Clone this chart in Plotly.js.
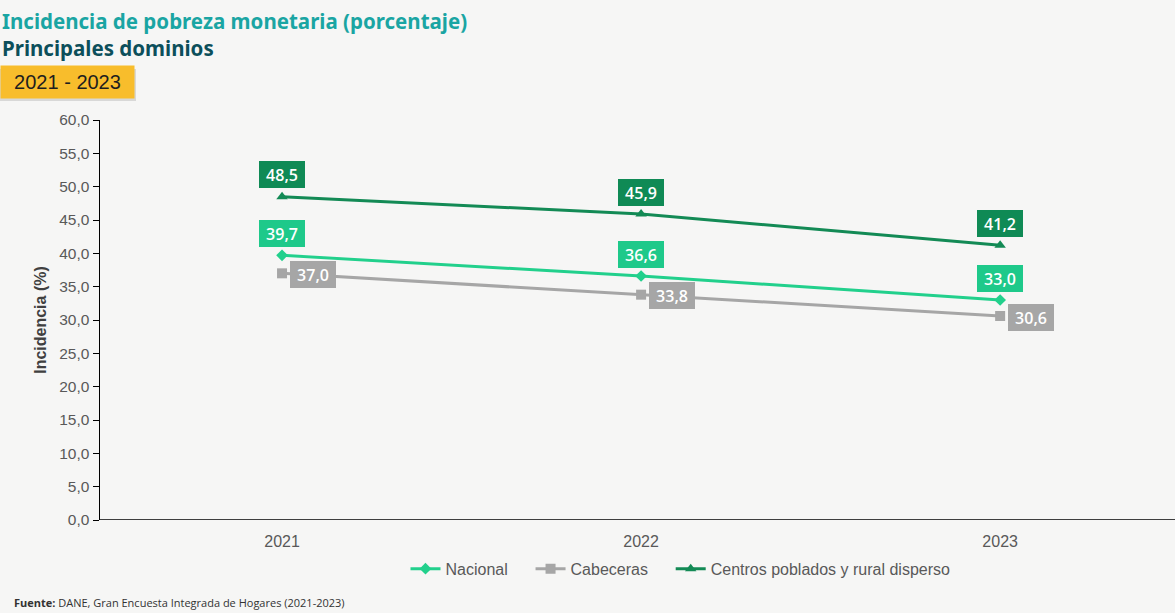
<!DOCTYPE html>
<html><head><meta charset="utf-8">
<script src="https://cdn.plot.ly/plotly-3.0.1.min.js"></script>
<style>html,body{margin:0;padding:0;background:#f6f6f5;}#chart{width:1175px;height:613px;}</style>
</head><body><div id="chart"></div>
<script>
const years = ['2021', '2022', '2023'];
const seriesNames = ['Nacional', 'Cabeceras', 'Centros poblados y rural disperso'];
const nacional = [39.7, 36.6, 33.0];
const cabeceras = [37.0, 33.8, 30.6];
const centros = [48.5, 45.9, 41.2];
const yTicks = [0, 5, 10, 15, 20, 25, 30, 35, 40, 45, 50, 55, 60];

const colors = ['#22d08c', '#a6a6a6', '#138a55'];
const labelBg = ['#1ec98a', '#a6a6a6', '#0f8a55'];
const symbols = ['diamond', 'square', 'triangle-up'];
const sizes = [9, 10, 10];
const allSeries = [nacional, cabeceras, centros];
// label placement: [xshift, yshift]
const shifts = [[0, 22], [31, -1], [0, 22]];

const traces = allSeries.map((vals, i) => ({
  x: years, y: vals, name: seriesNames[i] + (i < 2 ? '\u00a0\u00a0\u00a0\u00a0' : ''),
  type: 'scatter', mode: 'lines+markers',
  line: {color: colors[i], width: 3},
  marker: {symbol: symbols[i], size: sizes[i], color: colors[i]}
}));

const fmt = v => v.toFixed(1).replace('.', ',');
const annotations = [];
allSeries.forEach((vals, i) => {
  vals.forEach((v, j) => {
    annotations.push({
      x: j, y: v, xref: 'x', yref: 'y', text: fmt(v), showarrow: false,
      xshift: shifts[i][0], yshift: shifts[i][1],
      bgcolor: labelBg[i], borderpad: 3, borderwidth: 0, width: 40, height: 21,
      font: {family: 'Open Sans', size: 16, color: '#ffffff', weight: 600}
    });
  });
});

const titleAnn = [
  {text: '<b>Incidencia de pobreza monetaria (porcentaje)</b>', color: '#1aa5a3', y: 21},
  {text: '<b>Principales dominios</b>', color: '#0c4f5b', y: 48}
];
titleAnn.forEach(t => annotations.push({
  xref: 'paper', yref: 'paper', xanchor: 'left', yanchor: 'middle',
  x: -100 / 1075, y: 1 + (120 - t.y) / 400, text: t.text, showarrow: false,
  font: {family: 'Noto Sans', size: 20.5, color: t.color}
}));
annotations.push({
  xref: 'paper', yref: 'paper', xanchor: 'left', yanchor: 'middle',
  x: -100 / 1075, y: 1 + (120 - 82) / 400, text: '2021 - 2023', showarrow: false,
  bgcolor: '#f8bd2c', borderpad: 5, width: 123, height: 22,
  font: {family: 'Liberation Sans', size: 20, color: '#1e1e1e'}
});
annotations.push({
  xref: 'paper', yref: 'paper', xanchor: 'left', yanchor: 'bottom',
  x: -88 / 1075, y: -(612 - 520) / 400, text: '<b>Fuente:</b> DANE, Gran Encuesta Integrada de Hogares (2021-2023)', showarrow: false,
  font: {family: 'Open Sans', size: 11, color: '#333333'}
});

const layout = {
  width: 1175, height: 613,
  paper_bgcolor: '#f6f6f5', plot_bgcolor: 'rgba(0,0,0,0)',
  margin: {l: 100, r: 0, t: 120, b: 93},
  separators: ',.',
  showlegend: true,
  legend: {orientation: 'h', x: 0.54, xanchor: 'center', y: -0.122, yanchor: 'middle',
    font: {family: 'Liberation Sans', size: 16, color: '#595959'}, bgcolor: 'rgba(0,0,0,0)'},
  xaxis: {type: 'category', range: [-0.507, 2.487], showgrid: false, zeroline: false,
    showline: false, ticks: '', ticklabelstandoff: 10,
    tickfont: {family: 'Liberation Sans', size: 16, color: '#595959'}, automargin: false},
  yaxis: {range: [0, 60], tickvals: yTicks, tickformat: '.1f', showgrid: false, zeroline: false,
    showline: true, linecolor: '#000000', linewidth: 1.5, ticks: 'outside', ticklen: 6, tickcolor: '#000000',
    tickfont: {family: 'Liberation Sans', size: 15.5, color: '#595959'},
    title: {text: '<b>Incidencia (%)</b>', font: {family: 'Liberation Sans', size: 16, color: '#404040'}, standoff: 8},
    automargin: false},
  shapes: [
    {type: 'rect', xref: 'paper', yref: 'paper', layer: 'below',
      x0: -100 / 1075, x1: -100 / 1075 + 136 / 1075, y0: 1 + (120 - 101) / 400, y1: 1 + (120 - 69) / 400,
      fillcolor: 'rgba(0,0,0,0.12)', line: {width: 0}},
    {type: 'line', xref: 'paper', yref: 'y', x0: 0, x1: 1, y0: 0, y1: 0, line: {color: '#000', width: 1.5}}
  ],
  annotations: annotations
};

Plotly.newPlot('chart', traces, layout, {displayModeBar: false, staticPlot: true});
</script></body></html>
